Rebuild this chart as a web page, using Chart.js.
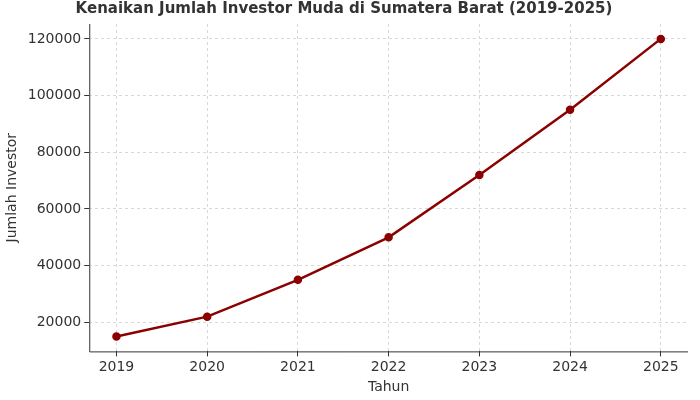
<!DOCTYPE html>
<html><head><meta charset="utf-8">
<script src="https://cdn.jsdelivr.net/npm/chart.js@4"></script>
<style>html,body{margin:0;padding:0;background:#fff}#w{width:700px;height:400px}</style>
</head><body><div id="w"><canvas id="c"></canvas></div>
<script>
const years = [2019, 2020, 2021, 2022, 2023, 2024, 2025];
const investors = [15000, 22000, 35000, 50000, 72000, 95000, 120000];
const yTicks = [20000, 40000, 60000, 80000, 100000, 120000];
const titleText = 'Kenaikan Jumlah Investor Muda di Sumatera Barat (2019-2025)';
const font = "'DejaVu Sans', sans-serif";
new Chart(document.getElementById('c'), {
  type: 'line',
  data: { datasets: [{
    data: years.map((y, i) => ({ x: y, y: investors[i] })),
    borderColor: '#8b0000', backgroundColor: '#8b0000',
    borderWidth: 2.5, pointRadius: 3, pointHoverRadius: 3, tension: 0
  }]},
  options: {
    responsive: true, maintainAspectRatio: false, animation: false,
    layout: { padding: { right: 12, top: 0, bottom: 0 } },
    plugins: { legend: { display: false }, tooltip: { enabled: false },
      title: { display: true, text: titleText, color: '#333', font: { family: font, size: 15, weight: 'bold' }, padding: { top: 0, bottom: 6 } } },
    scales: {
      x: { type: 'linear', min: 2018.7, max: 2025.3,
        afterBuildTicks: s => { s.ticks = years.map(v => ({ value: v })); },
        ticks: { color: '#333', font: { family: font, size: 14 }, callback: v => String(v) },
        grid: { color: '#d8d8d8', tickColor: '#333', tickLength: 5, tickBorderDash: [] },
        border: { display: false, dash: [3, 3] },
        title: { display: true, text: 'Tahun', color: '#333', font: { family: font, size: 14 }, padding: { top: 0 } } },
      y: { min: 9750, max: 125250,
        afterBuildTicks: s => { s.ticks = yTicks.map(v => ({ value: v })); },
        ticks: { color: '#333', font: { family: font, size: 14 }, callback: v => String(v) },
        grid: { color: '#d8d8d8', tickColor: '#333', tickLength: 5, tickBorderDash: [] },
        border: { display: false, dash: [3, 3] },
        title: { display: true, text: 'Jumlah Investor', color: '#333', font: { family: font, size: 14 } } }
    }
  },
  plugins: [{ id: 'axes', afterDraw(ch) {
    const a = ch.chartArea, c = ch.ctx;
    c.save(); c.strokeStyle = '#333'; c.lineWidth = 1; c.setLineDash([]);
    c.beginPath(); c.moveTo(a.left + 0.5, a.top); c.lineTo(a.left + 0.5, a.bottom + 0.5); c.lineTo(a.right, a.bottom + 0.5); c.stroke();
    c.restore();
  }}]
});
</script></body></html>
